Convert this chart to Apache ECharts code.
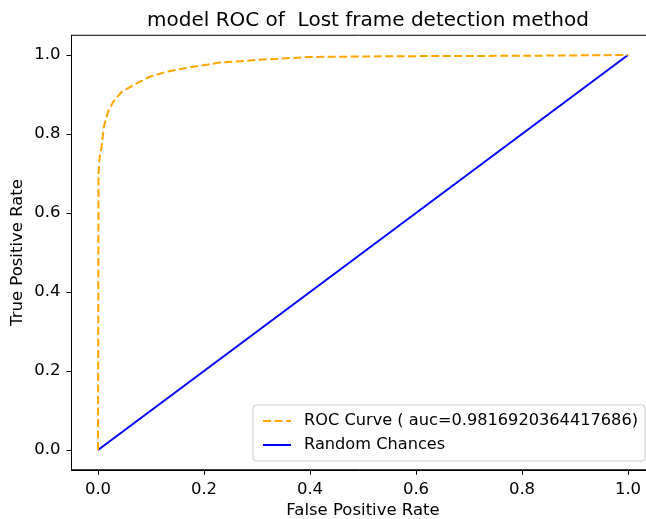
<!DOCTYPE html>
<html>
<head>
<meta charset="utf-8">
<script src="https://cdn.jsdelivr.net/npm/echarts@6/dist/echarts.min.js"></script>
<style>html,body{margin:0;padding:0;background:#fff;}#c{width:646px;height:519px;}</style>
</head>
<body>
<div id="c"></div>
<script>
const titleText = 'model ROC of  Lost frame detection method';
const xName = 'False Positive Rate';
const yName = 'True Positive Rate';
const rocName = 'ROC Curve ( auc=0.9816920364417686)';
const randName = 'Random Chances';
const tickValues = [0, 0.2, 0.4, 0.6, 0.8, 1.0];
const rocFpr = [0, 0.001, 0.003, 0.006, 0.011, 0.019, 0.029, 0.045, 0.067, 0.098, 0.13, 0.174, 0.208, 0.23, 0.318, 0.40, 0.57, 0.8, 1.0];
const rocTpr = [0, 0.70, 0.74, 0.76, 0.818, 0.857, 0.882, 0.907, 0.924, 0.945, 0.958, 0.969, 0.976, 0.981, 0.989, 0.995, 0.997, 0.998, 1.0];
const randFpr = [0, 1];
const randTpr = [0, 1];

const font = 'DejaVu Sans';
const chart = echarts.init(document.getElementById('c'), null, {renderer: 'canvas'});
const axisCommon = {
  type: 'value', min: -0.05, max: 1.05,
  splitLine: {show: false},
  axisLine: {show: true, onZero: false, lineStyle: {color: '#000', width: 1}},
  axisTick: {show: true, inside: false, length: 5, lineStyle: {color: '#000', width: 1}, customValues: tickValues},
  axisLabel: {color: '#000', fontFamily: font, fontSize: 16.5, customValues: tickValues,
    formatter: v => v.toFixed(1)},
  nameLocation: 'middle',
  nameMoveOverlap: false,
  nameTextStyle: {color: '#000', fontFamily: font, fontSize: 16.5}
};
chart.setOption({
  animation: false,
  backgroundColor: '#fff',
  title: {text: titleText, left: 363, top: 6, textAlign: 'center',
    textStyle: {color: '#000', fontFamily: font, fontSize: 20, fontWeight: 'normal'}},
  grid: {left: 71.5, width: 583, top: 35.25, bottom: 49.25, show: true, borderColor: '#000', borderWidth: 1,
    containLabel: false, outerBoundsMode: 'none'},
  xAxis: Object.assign({}, axisCommon, {name: xName, nameGap: 32,
    axisLabel: Object.assign({}, axisCommon.axisLabel, {margin: 11})}),
  yAxis: Object.assign({}, axisCommon, {name: yName, nameGap: 45, nameRotate: 90,
    axisLabel: Object.assign({}, axisCommon.axisLabel, {margin: 11})}),
  legend: {
    orient: 'vertical', right: 1, top: 405,
    backgroundColor: 'rgba(255,255,255,0.8)', borderColor: '#cccccc', borderWidth: 1, borderRadius: 3,
    padding: [8, 7, 8, 9], itemWidth: 28, itemHeight: 14, itemGap: 8,
    itemStyle: {opacity: 0},
    textStyle: {color: '#000', fontFamily: font, fontSize: 16.2, padding: [0, 0, 0, 8]},
    data: [rocName, randName]
  },
  series: [
    {name: rocName, type: 'line', symbol: 'none', data: rocFpr.map((x, i) => [x, rocTpr[i]]),
      lineStyle: {color: '#ffa500', width: 2, type: [8, 3.5]}, itemStyle: {color: '#ffa500'}, z: 3},
    {name: randName, type: 'line', symbol: 'none', data: randFpr.map((x, i) => [x, randTpr[i]]),
      lineStyle: {color: '#0000ff', width: 2, type: 'solid'}, itemStyle: {color: '#0000ff'}, z: 2}
  ]
});
</script>
</body>
</html>
